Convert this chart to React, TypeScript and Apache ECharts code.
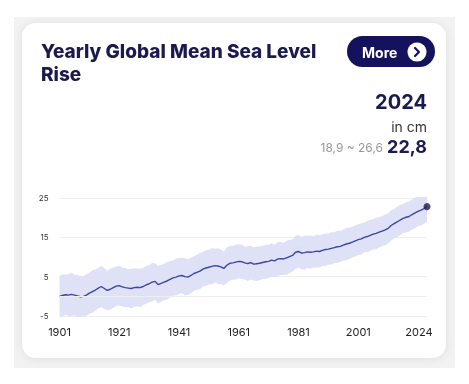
import React, { useEffect, useRef } from "react";
import * as echarts from "echarts";

const years: string[] = [];
for (let y = 1901; y <= 2024; y++) years.push(String(y));

const meanLevel: number[] = [
  0.0, 0.2, 0.4, 0.3, 0.5, 0.3, 0.1, -0.1, 0.0, 0.3,
  0.8, 1.2, 1.6, 2.1, 2.5, 2.0, 1.5, 1.8, 2.2, 2.6,
  2.7, 2.4, 2.2, 2.1, 2.0, 2.2, 2.3, 2.2, 2.5, 2.9,
  3.2, 3.6, 3.8, 3.0, 3.3, 3.6, 3.9, 4.3, 4.7, 4.9,
  5.2, 5.3, 5.0, 4.9, 5.3, 5.8, 6.1, 6.4, 6.9, 7.2,
  7.4, 7.6, 7.8, 7.7, 7.5, 7.1, 7.9, 8.4, 8.5, 8.7,
  8.9, 8.8, 8.5, 8.3, 8.6, 8.2, 8.3, 8.4, 8.6, 8.8,
  8.9, 9.2, 9.0, 9.5, 9.6, 9.5, 9.8, 10.1, 10.4, 11.2,
  11.4, 11.0, 11.1, 11.3, 11.2, 11.3, 11.5, 11.4, 11.7, 11.9,
  12.0, 12.2, 12.4, 12.6, 12.7, 13.0, 13.3, 13.5, 13.8, 14.1,
  14.4, 14.6, 15.0, 15.2, 15.5, 15.8, 16.0, 16.3, 16.6, 16.9,
  17.3, 18.0, 18.5, 18.9, 19.4, 19.8, 20.1, 20.3, 20.8, 21.2,
  21.6, 21.9, 22.3, 22.8,
];

const halfWidth: number[] = [
  5.2, 5.4, 5.1, 5.3, 5.5, 5.2, 5.4, 5.3, 5.1, 5.3,
  5.2, 5.4, 5.2, 5.1, 5.3, 5.2, 5.0, 5.2, 5.1, 5.0,
  5.1, 4.9, 5.0, 4.8, 5.0, 4.9, 4.8, 4.9, 4.7, 4.8,
  4.7, 4.9, 4.6, 4.8, 4.7, 4.6, 4.8, 4.6, 4.5, 4.7,
  4.6, 4.5, 4.7, 4.5, 4.6, 4.4, 4.5, 4.6, 4.4, 4.5,
  4.4, 4.6, 4.3, 4.5, 4.4, 4.3, 4.5, 4.4, 4.3, 4.4,
  4.3, 4.4, 4.2, 4.4, 4.3, 4.2, 4.4, 4.3, 4.2, 4.3,
  4.2, 4.3, 4.1, 4.3, 4.2, 4.1, 4.3, 4.2, 4.1, 4.2,
  4.2, 4.1, 4.3, 4.1, 4.2, 4.0, 4.2, 4.1, 4.0, 4.1,
  4.0, 4.1, 3.9, 4.1, 4.0, 3.9, 4.1, 4.0, 3.9, 4.0,
  3.9, 4.0, 3.8, 4.0, 3.9, 3.8, 4.0, 3.9, 3.8, 3.9,
  3.8, 3.9, 3.7, 3.9, 3.8, 3.7, 3.9, 3.8, 3.8, 3.9,
  3.8, 3.9, 3.8, 3.85,
];

const labelYears: string[] = ["1901", "1921", "1941", "1961", "1981", "2001", "2024"];
const yTicks = { min: -5, max: 25, interval: 10 };
const titleLines: string[] = ["Yearly Global Mean Sea Level", "Rise"];

const NAVY = "#1b1a4f";

export default function App() {
  const ref = useRef<HTMLDivElement>(null);
  useEffect(() => {
    if (!ref.current) return;
    const chart = echarts.init(ref.current, undefined, { renderer: "svg" });
    const low = meanLevel.map((v, i) => +(v - halfWidth[i]).toFixed(2));
    const spread = halfWidth.map((h) => +(2 * h).toFixed(2));
    const lastIdx = meanLevel.length - 1;
    chart.setOption({
      animation: false,
      grid: { left: 59.5, right: 42, top: 198, bottom: 68 },
      graphic: [
        { type: "rect", z: -10, shape: { x: 14, y: 17, width: 441, height: 351 }, style: { fill: "#f2f2f2" } },
        {
          type: "rect", z: -9,
          shape: { x: 22, y: 23, width: 424, height: 335, r: 14 },
          style: { fill: "#ffffff", shadowBlur: 8, shadowColor: "rgba(0,0,0,0.08)", shadowOffsetY: 1 },
        },
        ...titleLines.map((t, i) => ({
          type: "text", x: 41, y: 51 + i * 23,
          style: { text: t, font: "800 19px Inter", fill: NAVY, verticalAlign: "middle", lineHeight: 19 },
        })),
        { type: "rect", shape: { x: 347, y: 36, width: 88, height: 31, r: 15.5 }, style: { fill: "#14125c" } },
        {
          type: "text", x: 362, y: 52, style: { text: "More", font: "bold 14px Inter", fill: "#ffffff", verticalAlign: "middle" },
        },
        { type: "circle", shape: { cx: 417, cy: 52, r: 9.5 }, style: { fill: "#ffffff" } },
        {
          type: "polyline",
          shape: { points: [[415, 48], [419, 52], [415, 56]] },
          style: { stroke: "#14125c", lineWidth: 2.2, fill: "none", lineCap: "round", lineJoin: "round" },
        },
        {
          type: "text", x: 427, y: 102,
          style: { text: "2024", font: "bold 20px Inter", fill: NAVY, align: "right", verticalAlign: "middle" },
        },
        {
          type: "text", x: 427, y: 126,
          style: { text: "in cm", font: "14px Inter", fill: "#333333", align: "right", verticalAlign: "middle" },
        },
        {
          type: "text", x: 427, y: 146,
          style: { text: "22,8", font: "bold 18px Inter", fill: NAVY, align: "right", verticalAlign: "middle" },
        },
        {
          type: "text", x: 383, y: 147,
          style: { text: "18,9 ~ 26,6", font: "12px Inter", fill: "#999999", align: "right", verticalAlign: "middle" },
        },
      ],
      xAxis: {
        type: "category",
        data: years,
        boundaryGap: false,
        axisLine: { show: false },
        axisTick: { show: false },
        splitLine: { show: false },
        axisLabel: {
          interval: (idx: number, val: string) => labelYears.includes(val),
          margin: 10,
          fontFamily: "Inter",
          fontSize: 11,
          color: "#222222",
          formatter: (v: string) => (v === years[years.length - 1] ? "{last|" + v + "}" : v),
          rich: { last: { fontFamily: "Inter", fontSize: 11, color: "#222222", padding: [0, 16, 0, 0] } },
        },
      },
      yAxis: {
        type: "value",
        min: yTicks.min,
        max: yTicks.max,
        interval: yTicks.interval,
        axisLine: { show: false },
        axisTick: { show: false },
        axisLabel: { fontFamily: "Inter", fontSize: 8, color: "#333333", margin: 11 },
        splitLine: { lineStyle: { color: "#eeeeee", width: 1 } },
      },
      series: [
        {
          type: "line",
          data: low,
          stack: "band",
          stackStrategy: "all",
          symbol: "none",
          lineStyle: { opacity: 0 },
          silent: true,
          markLine: {
            silent: true,
            symbol: "none",
            label: { show: false },
            lineStyle: { color: "#eeeeee", type: "solid", width: 1 },
            data: [{ yAxis: 0 }],
          },
          z: 1,
        },
        {
          type: "line",
          data: spread,
          stack: "band",
          stackStrategy: "all",
          symbol: "none",
          lineStyle: { opacity: 0 },
          areaStyle: { color: "#dfe1f6", opacity: 1 },
          silent: true,
          z: 2,
        },
        {
          type: "line",
          data: meanLevel,
          symbol: "none",
          lineStyle: { color: "#3a46a6", width: 1.4 },
          z: 3,
        },
        {
          type: "scatter",
          data: [[lastIdx, meanLevel[lastIdx]]],
          symbolSize: 7,
          itemStyle: { color: NAVY },
          z: 4,
        },
      ],
    });
    return () => chart.dispose();
  }, []);
  return <div ref={ref} style={{ position: "fixed", left: 0, top: 0, width: 469, height: 384 }} />;
}
